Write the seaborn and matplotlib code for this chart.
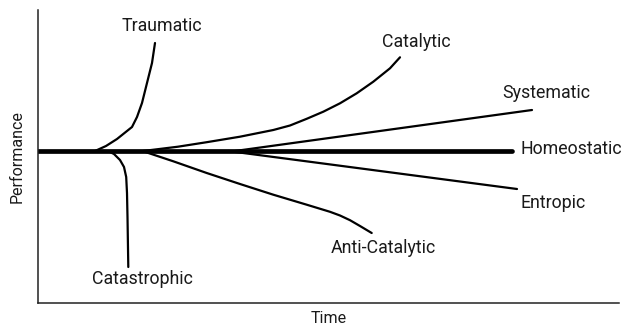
import matplotlib
matplotlib.use("Agg")
import matplotlib.pyplot as plt
import seaborn as sns

# ---- data (time, performance) ----
homeo_t = [0, 474]
homeo_p = [152, 152]

traumatic_t = [57, 68, 79, 89, 94, 99, 104, 109, 114, 117]
traumatic_p = [152, 157, 164, 172, 176, 186, 200, 220, 240, 260]

catastrophic_t = [70, 76, 82, 86, 88.2, 89, 89.5, 90.3]
catastrophic_p = [152, 149, 143, 136, 126, 110, 86, 36]

catalytic_t = [105, 140, 168.7, 202, 235.3, 252, 268.7, 285.3, 302,
               318.7, 335.3, 352, 362]
catalytic_p = [152, 156.3, 160.8, 166.3, 173, 177.5, 184.2, 191.3, 199.7,
               209.7, 221.3, 234.7, 245.7]

systematic_t = [197, 494]
systematic_p = [152, 193]

entropic_t = [190, 479]
entropic_p = [152, 114]

anticatalytic_t = [105.3, 135.3, 168.7, 202, 235.3, 268.7, 292, 302,
                   312, 322, 333.7]
anticatalytic_p = [151.7, 141.7, 130, 119, 108.3, 98.3, 91.2, 87.5,
                   82.8, 77, 70]

labels = ["Traumatic", "Catalytic", "Systematic", "Homeostatic",
          "Entropic", "Anti-Catalytic", "Catastrophic"]
label_t = [124, 378, 508, 482.7, 482.7, 345, 104]
label_p = [277, 261, 210.5, 154.5, 100, 55, 23.5]
label_ha = ["center", "center", "center", "left", "left", "center", "center"]

sns.set_style("white")
plt.rcParams["font.family"] = ["Roboto", "DejaVu Sans"]

fig = plt.figure(figsize=(6.25, 3.27), dpi=100)
ax = fig.add_axes([38 / 625, 1 - 303 / 327, (619 - 38) / 625, (303 - 10) / 327])

thin = dict(color="black", linewidth=1.6, sort=False, estimator=None, ax=ax)
sns.lineplot(x=traumatic_t, y=traumatic_p, **thin)
sns.lineplot(x=catastrophic_t, y=catastrophic_p, **thin)
sns.lineplot(x=catalytic_t, y=catalytic_p, **thin)
sns.lineplot(x=systematic_t, y=systematic_p, **thin)
sns.lineplot(x=entropic_t, y=entropic_p, **thin)
sns.lineplot(x=anticatalytic_t, y=anticatalytic_p, **thin)
sns.lineplot(x=homeo_t, y=homeo_p, color="black", linewidth=3.4,
             sort=False, estimator=None, ax=ax)

for lab, t, p, ha in zip(labels, label_t, label_p, label_ha):
    ax.text(t, p, lab, ha=ha, va="center", fontsize=12.8, color="#1a1a1a")

ax.set_xlim(0, 581)
ax.set_ylim(0, 293)
ax.set_xticks([])
ax.set_yticks([])
ax.set_xlabel("Time", fontsize=11.5, va="center", color="#1a1a1a")
ax.set_ylabel("Performance", fontsize=11.5, va="center", color="#1a1a1a")
ax.xaxis.set_label_coords(0.5, -0.053)
ax.yaxis.set_label_coords(-0.036, 0.5)
sns.despine(ax=ax)
for s in ("left", "bottom"):
    ax.spines[s].set_color("#222222")
    ax.spines[s].set_linewidth(1.1)

fig.savefig("out.png", dpi=100)
